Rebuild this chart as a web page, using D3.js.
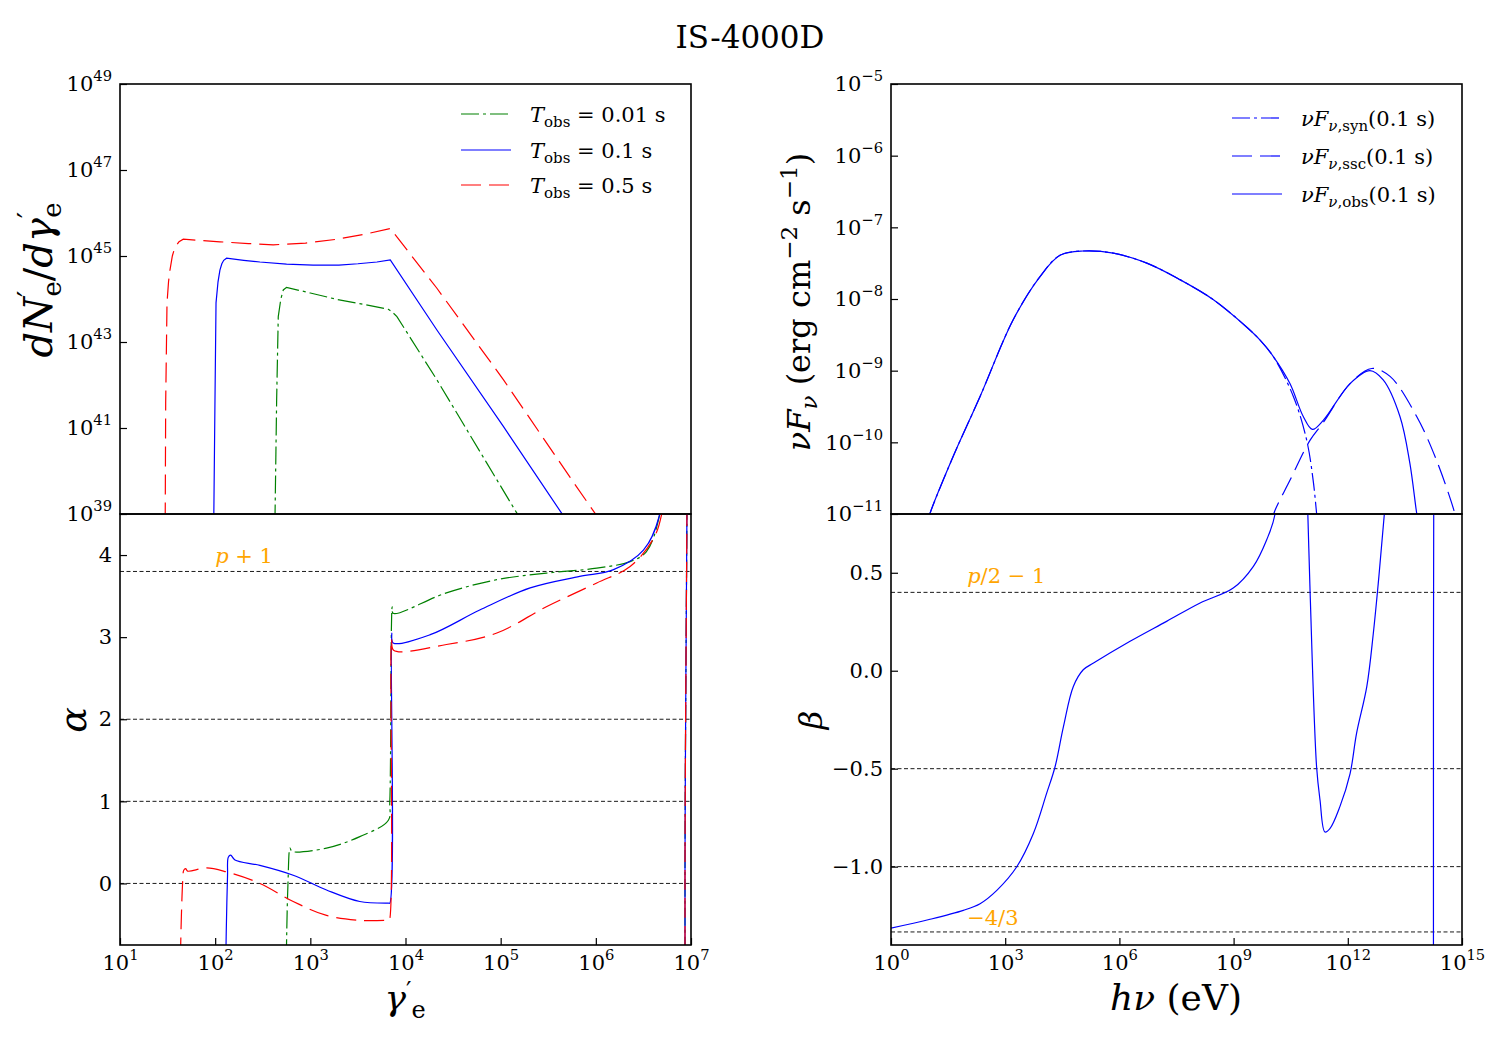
<!DOCTYPE html>
<html>
<head>
<meta charset="utf-8">
<script src="https://cdn.jsdelivr.net/npm/d3@7"></script>
<style>
  body { margin: 0; background: #fff; }
  svg { font-family: "DejaVu Serif", serif; }
</style>
</head>
<body>
<svg width="1500" height="1050"></svg>
<script>
// ---------- data (log10 values) ----------

// electron spectrum dN'/dgamma' : log10(gamma'), log10(dN/dgamma)
const nGreenG = [2.628, 2.646, 2.663, 2.69, 2.716, 2.75, 3.0, 3.28, 3.55, 3.82, 3.86, 3.91, 4.33, 4.85, 5.17, 5.25]
const nGreenN = [38.8, 41.65, 43.59, 44.0, 44.21, 44.27, 44.14, 43.99, 43.88, 43.76, 43.70, 43.59, 42.12, 40.2, 39.02, 38.7]
const nBlueG = [1.985, 1.998, 2.009, 2.03, 2.05, 2.07, 2.09, 2.12, 2.3, 2.47, 2.75, 3.03, 3.3, 3.5, 3.7, 3.84, 4.33, 5.03, 5.64, 5.7]
const nBlueN = [38.8, 41.65, 43.91, 44.4, 44.67, 44.82, 44.9, 44.95, 44.9, 44.86, 44.81, 44.79, 44.79, 44.82, 44.86, 44.91, 43.28, 41.03, 39.02, 38.8]
const nRedG = [1.475, 1.48, 1.494, 1.51, 1.525, 1.55, 1.578, 1.62, 1.665, 2.05, 2.35, 2.61, 2.95, 3.28, 3.6, 3.84, 4.33, 5.03, 5.73, 5.99, 6.05]
const nRedN = [38.8, 41.58, 43.91, 44.4, 44.67, 45.0, 45.21, 45.33, 45.39, 45.33, 45.29, 45.26, 45.3, 45.39, 45.52, 45.64, 44.25, 42.12, 39.85, 39.02, 38.8]

// spectral slope alpha : log10(gamma'), alpha
const aGreenG = [2.748, 2.752, 2.765, 2.786, 2.80, 2.82, 3.17, 3.52, 3.82, 3.835, 3.86, 3.87, 4.43, 4.96, 5.48, 6.01, 6.36, 6.53, 6.67, 6.8, 6.937, 6.937, 6.937]
const aGreenA = [-0.9, -0.6, 0.0, 0.43, 0.40, 0.385, 0.43, 0.57, 0.77, 1.0, 3.37, 3.29, 3.54, 3.70, 3.78, 3.84, 3.92, 4.04, 4.49, 6, 8, 0, -8]
const aBlueG = [2.112, 2.118, 2.13, 2.138, 2.163, 2.208, 2.47, 2.82, 3.17, 3.52, 3.82, 3.835, 3.855, 3.87, 4.26, 4.78, 5.31, 5.83, 6.18, 6.50, 6.67, 6.8, 6.937, 6.937, 6.937]
const aBlueA = [-0.9, -0.5, 0.1, 0.32, 0.345, 0.285, 0.22, 0.10, -0.08, -0.22, -0.24, -0.24, 3.05, 2.93, 3.03, 3.33, 3.60, 3.74, 3.82, 4.06, 4.49, 6, 8, 0, -8]
const aRedG = [1.635, 1.645, 1.66, 1.67, 1.69, 1.71, 1.91, 2.12, 2.47, 2.82, 3.17, 3.52, 3.82, 3.83, 3.855, 3.875, 4.43, 4.96, 5.48, 6.01, 6.36, 6.60, 6.69, 6.8, 6.937, 6.937, 6.937]
const aRedA = [-0.9, -0.4, 0.05, 0.16, 0.18, 0.15, 0.19, 0.14, 0.0, -0.22, -0.39, -0.45, -0.45, -0.45, 2.98, 2.84, 2.91, 3.05, 3.37, 3.66, 3.86, 4.19, 4.49, 6, 8, 0, -8]

// nuFnu at 0.1 s : log10(h nu / eV), log10(nuFnu)
const obsE = [1.0, 1.02, 1.59, 2.34, 3.21, 3.91, 4.44, 5.05, 5.84, 6.72, 7.59, 8.47, 9.34, 9.69, 10.04, 10.48, 10.83, 11.07, 11.36, 12.06, 12.58, 12.93, 13.37, 13.63, 13.81, 13.85]
const obsF = [-11.05, -11.0, -10.25, -9.36, -8.29, -7.69, -7.39, -7.33, -7.36, -7.50, -7.73, -8.01, -8.39, -8.57, -8.80, -9.18, -9.64, -9.82, -9.69, -9.18, -9.00, -9.13, -9.64, -10.29, -10.99, -11.1]
const synE = [1.0, 1.02, 1.59, 2.34, 3.21, 3.91, 4.44, 5.05, 5.84, 6.72, 7.59, 8.47, 9.34, 9.69, 10.04, 10.57, 10.92, 11.09, 11.18, 11.22]
const synF = [-11.05, -11.0, -10.25, -9.36, -8.29, -7.69, -7.39, -7.33, -7.36, -7.50, -7.73, -8.01, -8.39, -8.57, -8.80, -9.36, -9.97, -10.53, -10.99, -11.2]
const sscE = [10.03, 10.06, 10.48, 11.01, 11.36, 12.06, 12.63, 13.11, 13.81, 14.33, 14.81, 14.85]
const sscF = [-11.1, -10.99, -10.53, -9.97, -9.72, -9.18, -8.97, -9.08, -9.64, -10.25, -10.99, -11.1]

// photon index beta : log10(h nu / eV), beta
const betaE = [0, 1.0, 1.9, 2.34, 2.78, 3.3, 3.74, 4.09, 4.31, 4.53, 4.79, 5.05, 5.32, 6.28, 7.24, 8.12, 8.99, 9.52, 9.87, 10.09, 10.3, 10.6, 10.85, 10.95, 11.01, 11.18, 11.27, 11.40, 11.53, 11.79, 12.06, 12.23, 12.50, 12.67, 12.80, 12.96, 13.3, 13.9, 14.25, 14.25, 14.25]
const betaB = [-1.314, -1.27, -1.223, -1.189, -1.121, -1.002, -0.831, -0.625, -0.49, -0.285, -0.08, 0.005, 0.039, 0.15, 0.252, 0.346, 0.422, 0.533, 0.669, 0.80, 1.4, 1.8, 1.4, 0.8, 0.40, -0.49, -0.66, -0.823, -0.806, -0.695, -0.525, -0.32, -0.08, 0.19, 0.446, 0.80, 1.6, 3, 6, 0, -6]

// reference levels (p = 2.8)
const alphaRefs = [3.8, 2, 1, 0]
const betaRefs = [0.4, -0.5, -1, -4 / 3]

// ticks
const nTicks = [39, 41, 43, 45, 47, 49]
const gamTicks = [1, 2, 3, 4, 5, 6, 7]
const alphaTicks = [0, 1, 2, 3, 4]
const fluxTicks = [-11, -10, -9, -8, -7, -6, -5]
const nuTicks = [0, 3, 6, 9, 12, 15]
const betaTicks = [-1.0, -0.5, 0.0, 0.5]

const tobsLabels = ["0.01", "0.1", "0.5"]
const fluxLabels = ["syn", "ssc", "obs"]

// ---------- layout ----------
const svg = d3.select("svg")
const FS = 21

const xGam = d3.scaleLog().domain([1e1, 1e7]).range([120, 691])
const yN = d3.scaleLog().domain([1e39, 1e49]).range([514, 84])
const yAlpha = d3.scaleLinear().domain([-0.75, 4.5]).range([945, 514])
const xNu = d3.scaleLog().domain([1e0, 1e15]).range([891, 1462])
const yFlux = d3.scaleLog().domain([1e-11, 1e-5]).range([514, 84])
const yBeta = d3.scaleLinear().domain([-1.4, 0.8]).range([945, 514])

const GREEN = "#008000", BLUE = "#0000ff", RED = "#ff0000", ORANGE = "#ffa500"
const DASHDOT = "18,4,3,4", DASHED = "20,8"

const defs = svg.append("defs")

function panel(id, xs, ys) {
    const [x0, x1] = xs.range(), [y1, y0] = ys.range()
    defs.append("clipPath").attr("id", id)
        .append("rect").attr("x", x0).attr("y", y0).attr("width", x1 - x0).attr("height", y1 - y0)
    return svg.append("g").attr("clip-path", `url(#${id})`)
}

function frame(xs, ys) {
    const [x0, x1] = xs.range(), [y1, y0] = ys.range()
    svg.append("rect")
        .attr("x", x0).attr("y", y0).attr("width", x1 - x0).attr("height", y1 - y0)
        .attr("fill", "none").attr("stroke", "#000").attr("stroke-width", 1.6)
}

const supMinus = e => (e < 0 ? "\u2212" + Math.abs(e) : "" + e)

function pow10(t, e) {
    t.text("10")
    t.append("tspan").attr("dy", -10).attr("font-size", FS * 0.7).text(supMinus(e))
}

function styleAxis(g) {
    g.attr("font-size", FS).attr("font-family", "DejaVu Serif, serif")
    g.select(".domain").remove()
    g.selectAll(".tick line").attr("stroke-width", 1.2)
}

function leftAxisLog(scale, x, exps) {
    const g = svg.append("g").attr("transform", `translate(${x},0)`)
        .call(d3.axisLeft(scale).tickValues(exps.map(e => 10 ** e)).tickSizeInner(-7).tickSizeOuter(0).tickPadding(8).tickFormat(""))
    styleAxis(g)
    g.selectAll(".tick text").each(function (d) { pow10(d3.select(this), Math.round(Math.log10(d))) })
}

function leftAxisLin(scale, x, vals, fmt) {
    const g = svg.append("g").attr("transform", `translate(${x},0)`)
        .call(d3.axisLeft(scale).tickValues(vals).tickSizeInner(-7).tickSizeOuter(0).tickPadding(8).tickFormat(fmt))
    styleAxis(g)
}

function bottomAxisLog(scale, exps) {
    const g = svg.append("g").attr("transform", "translate(0,945)")
        .call(d3.axisBottom(scale).tickValues(exps.map(e => 10 ** e)).tickSizeInner(-7).tickSizeOuter(0).tickPadding(10).tickFormat(""))
    styleAxis(g)
    g.selectAll(".tick text").each(function (d) { pow10(d3.select(this), Math.round(Math.log10(d))) })
}

// rich text: parts {t, it, off (baseline offset px, + is down), fs, dx}
function rich(sel, parts) {
    let cur = 0
    parts.forEach(p => {
        const off = p.off || 0
        const ts = sel.append("tspan").text(p.t)
        if (off !== cur) ts.attr("dy", off - cur)
        cur = off
        if (p.it) ts.attr("font-style", "italic")
        if (p.fs) ts.attr("font-size", p.fs)
        if (p.dx) ts.attr("dx", p.dx)
    })
    return sel
}

function curve(g, xs, ys, xv, yv, lin, color, dash, smooth) {
    const line = d3.line()
        .curve(smooth ? d3.curveCatmullRom.alpha(0.5) : d3.curveLinear)
        .x(d => xs(10 ** d[0]))
        .y(d => ys(lin ? d[1] : 10 ** d[1]))
    g.append("path")
        .datum(d3.zip(xv, yv))
        .attr("d", line)
        .attr("fill", "none")
        .attr("stroke", color)
        .attr("stroke-width", 1.2)
        .attr("stroke-dasharray", dash)
}

function refLines(g, xs, ys, vals) {
    g.selectAll(null)
        .data(vals)
        .enter()
        .append("line")
        .attr("x1", xs.range()[0]).attr("x2", xs.range()[1])
        .attr("y1", d => ys(d)).attr("y2", d => ys(d))
        .attr("stroke", "#000").attr("stroke-width", 0.9).attr("stroke-dasharray", "4,2.5")
}

// ---------- title ----------
svg.append("text")
    .attr("x", 750).attr("y", 48)
    .attr("text-anchor", "middle").attr("font-size", 31)
    .text("IS-4000D")

// ---------- top left: dN/dgamma ----------
const pN = panel("cN", xGam, yN)
curve(pN, xGam, yN, nGreenG, nGreenN, false, GREEN, DASHDOT, false)
curve(pN, xGam, yN, nBlueG, nBlueN, false, BLUE, null, false)
curve(pN, xGam, yN, nRedG, nRedN, false, RED, DASHED, false)
frame(xGam, yN)
leftAxisLog(yN, 120, nTicks)

const legL = svg.append("g")
const legStyles = [[GREEN, DASHDOT], [BLUE, null], [RED, DASHED]]
tobsLabels.forEach((lab, i) => {
    const y = [114, 150, 185][i]
    legL.append("line").attr("x1", 461).attr("x2", 511).attr("y1", y).attr("y2", y)
        .attr("stroke", legStyles[i][0]).attr("stroke-width", 1.2).attr("stroke-dasharray", legStyles[i][1])
    rich(legL.append("text").attr("x", 530).attr("y", y + 8).attr("font-size", FS), [
        { t: "T", it: 1 }, { t: "obs", off: 5, fs: 15 }, { t: " = " + lab + " s", off: 0 }
    ])
})

rich(svg.append("text").attr("transform", "translate(52,280) rotate(-90)").attr("text-anchor", "middle").attr("font-size", 40), [
    { t: "dN", it: 1 }, { t: "\u2032", off: -14, fs: 28 }, { t: "e", off: 9, fs: 26, dx: -6 },
    { t: "/", off: 0 }, { t: "d\u03b3", it: 1 }, { t: "\u2032", off: -14, fs: 28 }, { t: "e", off: 9, fs: 26, dx: -6 }
])

// ---------- bottom left: alpha ----------
const pA = panel("cA", xGam, yAlpha)
refLines(pA, xGam, yAlpha, alphaRefs)
curve(pA, xGam, yAlpha, aGreenG, aGreenA, true, GREEN, DASHDOT, true)
curve(pA, xGam, yAlpha, aBlueG, aBlueA, true, BLUE, null, true)
curve(pA, xGam, yAlpha, aRedG, aRedA, true, RED, DASHED, true)
frame(xGam, yAlpha)
leftAxisLin(yAlpha, 120, alphaTicks, d3.format("d"))
bottomAxisLog(xGam, gamTicks)

rich(svg.append("text").attr("x", xGam(100)).attr("y", yAlpha(3.9)).attr("fill", ORANGE).attr("font-size", FS), [
    { t: "p", it: 1 }, { t: " + 1" }
])

svg.append("text").attr("transform", "translate(86,720) rotate(-90)")
    .attr("text-anchor", "middle").attr("font-size", 38).attr("font-style", "italic").text("\u03b1")

rich(svg.append("text").attr("x", 405).attr("y", 1010).attr("text-anchor", "middle").attr("font-size", 36), [
    { t: "\u03b3", it: 1 }, { t: "\u2032", off: -11, fs: 24 }, { t: "e", off: 8, fs: 24 }
])

// ---------- top right: nuFnu ----------
const pF = panel("cF", xNu, yFlux)
curve(pF, xNu, yFlux, synE, synF, false, BLUE, DASHDOT, true)
curve(pF, xNu, yFlux, sscE, sscF, false, BLUE, DASHED, true)
curve(pF, xNu, yFlux, obsE, obsF, false, BLUE, null, true)
frame(xNu, yFlux)
leftAxisLog(yFlux, 891, fluxTicks)

const legR = svg.append("g")
const legRDash = [DASHDOT, DASHED, null]
fluxLabels.forEach((lab, i) => {
    const y = [118, 156, 194][i]
    legR.append("line").attr("x1", 1232).attr("x2", 1282).attr("y1", y).attr("y2", y)
        .attr("stroke", BLUE).attr("stroke-width", 1.2).attr("stroke-dasharray", legRDash[i])
    rich(legR.append("text").attr("x", 1301).attr("y", y + 8).attr("font-size", FS), [
        { t: "\u03bdF", it: 1 }, { t: "\u03bd", it: 1, off: 5, fs: 15 }, { t: "," + lab, off: 5, fs: 15 }, { t: "(0.1 s)", off: 0 }
    ])
})

rich(svg.append("text").attr("transform", "translate(810,302) rotate(-90)").attr("text-anchor", "middle").attr("font-size", 32), [
    { t: "\u03bdF", it: 1 }, { t: "\u03bd", it: 1, off: 7, fs: 23 }, { t: " (erg cm", off: 0 },
    { t: "\u22122", off: -13, fs: 23 }, { t: " s", off: 0 }, { t: "\u22121", off: -13, fs: 23 }, { t: ")", off: 0 }
])

// ---------- bottom right: beta ----------
const pB = panel("cB", xNu, yBeta)
refLines(pB, xNu, yBeta, betaRefs)
curve(pB, xNu, yBeta, betaE, betaB, true, BLUE, null, true)
frame(xNu, yBeta)
leftAxisLin(yBeta, 891, betaTicks, d3.format(".1f"))
bottomAxisLog(xNu, nuTicks)

rich(svg.append("text").attr("x", xNu(100)).attr("y", yBeta(0.45)).attr("fill", ORANGE).attr("font-size", FS), [
    { t: "p", it: 1 }, { t: "/2 \u2212 1" }
])
svg.append("text").attr("x", xNu(100)).attr("y", yBeta(-1.3)).attr("fill", ORANGE).attr("font-size", FS).text("\u22124/3")

svg.append("text").attr("transform", "translate(822,720) rotate(-90)")
    .attr("text-anchor", "middle").attr("font-size", 32).attr("font-style", "italic").text("\u03b2")

rich(svg.append("text").attr("x", 1176).attr("y", 1010).attr("text-anchor", "middle").attr("font-size", 36), [
    { t: "h\u03bd", it: 1 }, { t: " (eV)" }
])
</script>
</body>
</html>
